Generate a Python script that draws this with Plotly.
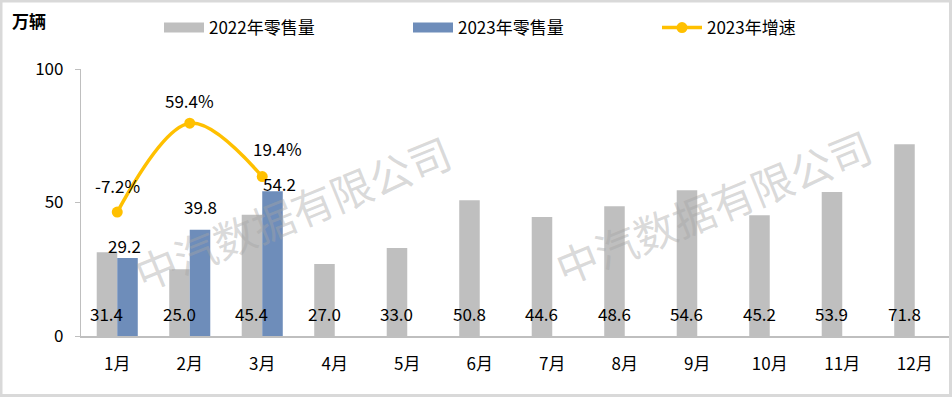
import plotly.graph_objects as go

# ---------------- data ----------------
months = ["1月", "2月", "3月", "4月", "5月", "6月", "7月", "8月", "9月", "10月", "11月", "12月"]
sales_2022 = [31.4, 25.0, 45.4, 27.0, 33.0, 50.8, 44.6, 48.6, 54.6, 45.2, 53.9, 71.8]
sales_2023 = [29.2, 39.8, 54.2]
growth_2023 = [-7.2, 59.4, 19.4]
y_ticks = [0, 50, 100]
unit_label = "万辆"
name_2022 = "2022年零售量"
name_2023 = "2023年零售量"
name_growth = "2023年增速"
watermark = "中汽数据有限公司"

# ---------------- layout constants ----------------
W, H = 952, 397
L, R, T, B = 81, 1, 69, 61
pw, ph = W - L - R, H - T - B
FONT = "Noto Sans CJK SC, Microsoft YaHei, sans-serif"
GRAY = "#BFBFBF"
BLUE = "#6E8DBA"
GOLD = "#FFC000"
BARGAP = 0.434
bar_px = (1 - BARGAP) / 2 * pw / len(months)
# manual label nudges (pixels) as in the original chart
blue_label_nudge = [(-3, 13), (0, 23), (7, 8)]
growth_label_nudge = [(0, 27), (0, 23), (15, 28)]


def px(x):
    return (x - L) / pw


def py(y):
    return (H - B - y) / ph


fig = go.Figure()

fig.add_trace(go.Bar(x=months, y=sales_2022, marker_color=GRAY, marker_line_width=0,
                     showlegend=False, offsetgroup="a", hoverinfo="skip"))
fig.add_trace(go.Bar(x=months[:len(sales_2023)], y=sales_2023, marker_color=BLUE,
                     marker_line_width=0, showlegend=False, offsetgroup="b",
                     hoverinfo="skip"))

# legend proxies for bars
fig.add_trace(go.Scatter(x=[None], y=[None], mode="lines", name=name_2022,
                         line=dict(color=GRAY, width=11)))
fig.add_trace(go.Scatter(x=[None], y=[None], mode="lines", name=name_2023,
                         line=dict(color=BLUE, width=11)))

fig.add_trace(go.Scatter(x=months[:len(growth_2023)], y=growth_2023, yaxis="y2",
                         mode="lines+markers", name=name_growth,
                         line=dict(color=GOLD, width=3.5, shape="spline", smoothing=1.0),
                         marker=dict(color=GOLD, size=11), cliponaxis=False))

lab_font = dict(size=17, color="#000000", family=FONT)
annotations = []
for m, v in zip(months, sales_2022):
    annotations.append(dict(x=m, y=0, xref="x", yref="y", text=f"{v:.1f}",
                            showarrow=False, xshift=-bar_px / 2, yshift=23,
                            yanchor="middle", font=lab_font))
for (m, v), (dx, dy) in zip(zip(months, sales_2023), blue_label_nudge):
    annotations.append(dict(x=m, y=v, xref="x", yref="y", text=f"{v:.1f}",
                            showarrow=False, xshift=bar_px / 2 + dx, yshift=dy,
                            yanchor="middle", font=lab_font))
for (m, g), (dx, dy) in zip(zip(months, growth_2023), growth_label_nudge):
    annotations.append(dict(x=m, y=g, xref="x", yref="y2", text=f"{g:.1f}%",
                            showarrow=False, xshift=dx, yshift=dy, yanchor="middle",
                            font=lab_font))
for cx, cy in [(292, 211), (713, 206)]:
    annotations.append(dict(x=px(cx), y=py(cy), xref="paper", yref="paper",
                            text=watermark, showarrow=False, textangle=-22,
                            xanchor="center", yanchor="middle",
                            font=dict(size=42, color="rgba(165,165,165,0.42)", family=FONT)))
annotations.append(dict(x=px(10), y=py(20), xref="paper", yref="paper",
                        text=f"<b>{unit_label}</b>", showarrow=False,
                        xanchor="left", yanchor="middle", font=lab_font))

fig.update_layout(
    width=W, height=H,
    margin=dict(l=L, r=R, t=T, b=B, autoexpand=False),
    paper_bgcolor="white", plot_bgcolor="white",
    barmode="group", bargap=BARGAP, bargroupgap=0,
    font=dict(family=FONT, size=17, color="#000000"),
    showlegend=True,
    legend=dict(orientation="h", x=px(159), y=py(28), xanchor="left", yanchor="middle",
                font=lab_font, entrywidth=194, entrywidthmode="pixels",
                bgcolor="rgba(0,0,0,0)", itemwidth=40),
    xaxis=dict(type="category", categoryorder="array", categoryarray=months,
               range=[-0.5, len(months) - 0.5],
               showline=True, linecolor=GRAY, linewidth=1.5, ticks="",
               showgrid=False, zeroline=False, ticklabelstandoff=12,
               tickfont=lab_font),
    yaxis=dict(range=[0, 100], tickvals=y_ticks, showline=True, linecolor=GRAY,
               linewidth=1.2, ticks="outside", ticklen=5, tickcolor=GRAY,
               showgrid=False, zeroline=False, ticklabelstandoff=8,
               tickfont=lab_font),
    yaxis2=dict(range=[-100, 100], overlaying="y", visible=False),
    annotations=annotations,
    shapes=[dict(type="rect", xref="paper", yref="paper",
                 x0=px(1), x1=px(W - 1.5), y0=py(H - 1.5), y1=py(1),
                 line=dict(color="#D9D9D9", width=3), fillcolor="rgba(0,0,0,0)")],
)

fig.write_html("out.html", config={"displayModeBar": False},
               post_script="document.body.style.margin='0';")
